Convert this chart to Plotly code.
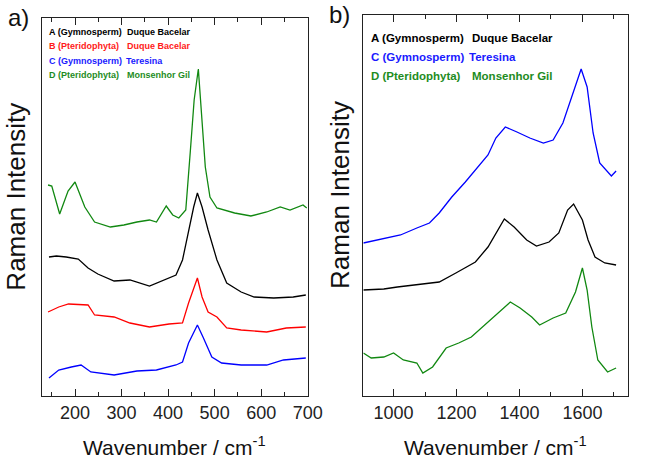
import plotly.graph_objects as go

# ---------------- Panel a data (wavenumber, intensity in arbitrary units) ----------------
a_green_x = [142, 150, 167, 185, 200, 221, 242, 276, 305, 333, 360, 375, 396, 410, 423, 438, 448, 456, 465, 473, 480, 490, 505, 543, 578, 612, 641, 662, 690, 698]
a_green_y = [211, 210, 182, 205, 214, 189, 174, 169, 171, 174, 176, 174, 190, 181, 178, 186, 246, 296, 327, 279, 229, 199, 188, 183, 180, 184, 189, 186, 191, 188]

a_black_x = [144, 160, 181, 207, 228, 249, 284, 318, 360, 389, 417, 431, 444, 455, 463, 473, 486, 505, 526, 557, 585, 627, 669, 696]
a_black_y = [139, 140, 139, 137, 128, 122, 115, 116, 110, 116, 121, 136, 166, 189, 203, 189, 166, 136, 113, 104, 99, 98, 99, 101]

a_red_x = [142, 165, 186, 228, 242, 284, 318, 360, 402, 431, 444, 463, 473, 486, 505, 526, 557, 612, 654, 696]
a_red_y = [84, 89, 92, 91, 81, 79, 73, 69, 72, 73, 93, 118, 99, 84, 79, 68, 66, 64, 68, 69]

a_blue_x = [144, 165, 192, 213, 234, 284, 333, 375, 417, 431, 444, 463, 475, 494, 515, 557, 612, 648, 696]
a_blue_y = [18, 26, 29, 31, 24, 21, 25, 26, 31, 34, 53, 71, 59, 39, 33, 31, 31, 36, 38]

# ---------------- Panel b data ----------------
b_blue_x = [904, 969, 1022, 1074, 1114, 1145, 1185, 1228, 1269, 1300, 1325, 1355, 1392, 1433, 1476, 1507, 1538, 1569, 1596, 1615, 1634, 1655, 1692, 1707]
b_blue_y = [153, 157, 161, 168, 173, 183, 199, 214, 229, 241, 258, 269, 264, 258, 253, 256, 273, 303, 327, 309, 263, 233, 220, 225]

b_black_x = [904, 969, 1012, 1074, 1145, 1198, 1260, 1300, 1331, 1352, 1383, 1423, 1454, 1494, 1525, 1553, 1572, 1600, 1618, 1640, 1671, 1707]
b_black_y = [106, 107, 109, 111, 114, 123, 134, 149, 166, 177, 169, 156, 150, 154, 163, 186, 192, 176, 156, 139, 133, 131]

b_green_x = [904, 929, 969, 1000, 1031, 1074, 1093, 1124, 1167, 1207, 1247, 1290, 1331, 1371, 1402, 1439, 1464, 1507, 1547, 1578, 1600, 1615, 1630, 1649, 1680, 1707]
b_green_y = [43, 38, 39, 43, 36, 33, 23, 29, 48, 53, 59, 71, 83, 94, 88, 79, 71, 78, 83, 104, 128, 106, 69, 36, 24, 28]

# ---------------- Axis ticks ----------------
a_ticks = [200, 300, 400, 500, 600, 700]
b_ticks = [1000, 1200, 1400, 1600]

# ---------------- Legend texts ----------------
a_labels = [("A (Gymnosperm)", "Duque Bacelar", "#000000"),
            ("B (Pteridophyta)", "Duque Bacelar", "#ff1a1a"),
            ("C (Gymnosperm)", "Teresina", "#1a1aff"),
            ("D (Pteridophyta)", "Monsenhor Gil", "#1e8c1e")]
b_labels = [("A (Gymnosperm)", "Duque Bacelar", "#000000"),
            ("C (Gymnosperm)", "Teresina", "#1a1aff"),
            ("D (Pteridophyta)", "Monsenhor Gil", "#1e8c1e")]

BLACK = "#000000"
RED = "#ff0000"
BLUE = "#0000ff"
GREEN = "#118811"

W, H = 645, 459

def px(x):
    return x / W

def py(y):
    return 1 - y / H

fig = go.Figure()
lw = 1.3
fig.add_trace(go.Scatter(x=a_green_x, y=a_green_y, mode="lines", line=dict(color=GREEN, width=lw), xaxis="x", yaxis="y"))
fig.add_trace(go.Scatter(x=a_black_x, y=a_black_y, mode="lines", line=dict(color=BLACK, width=lw), xaxis="x", yaxis="y"))
fig.add_trace(go.Scatter(x=a_red_x, y=a_red_y, mode="lines", line=dict(color=RED, width=lw), xaxis="x", yaxis="y"))
fig.add_trace(go.Scatter(x=a_blue_x, y=a_blue_y, mode="lines", line=dict(color=BLUE, width=lw), xaxis="x", yaxis="y"))
fig.add_trace(go.Scatter(x=b_blue_x, y=b_blue_y, mode="lines", line=dict(color=BLUE, width=lw), xaxis="x2", yaxis="y2"))
fig.add_trace(go.Scatter(x=b_black_x, y=b_black_y, mode="lines", line=dict(color=BLACK, width=lw), xaxis="x2", yaxis="y2"))
fig.add_trace(go.Scatter(x=b_green_x, y=b_green_y, mode="lines", line=dict(color=GREEN, width=lw), xaxis="x2", yaxis="y2"))

axis_line = dict(showline=True, linecolor="#222222", linewidth=1.3, mirror=True, showgrid=False, zeroline=False)
tickfont = dict(family="Liberation Sans, Arial", size=18, color="#222222")

fig.update_layout(
    width=W, height=H, autosize=False,
    margin=dict(l=0, r=0, t=0, b=0),
    paper_bgcolor="white", plot_bgcolor="white",
    showlegend=False,
    xaxis=dict(domain=[px(43), px(315)], range=[129, 700], anchor="y",
               tickvals=a_ticks, ticks="inside", ticklen=7, tickwidth=1.3, tickcolor="#222222",
               minor=dict(ticks="inside", ticklen=4, dtick=50, tick0=150, tickcolor="#222222", tickwidth=1.2),
               tickfont=tickfont, **{**axis_line, "mirror": "ticks"}),
    yaxis=dict(domain=[py(396), py(18)], range=[0, 378], anchor="x",
               showticklabels=False, ticks="", **axis_line),
    xaxis2=dict(domain=[px(372), px(643)], range=[904, 1745], anchor="y2",
                tickvals=b_ticks, ticks="inside", ticklen=7, tickwidth=1.3, tickcolor="#222222",
                minor=dict(ticks="inside", ticklen=4, dtick=100, tick0=900, tickcolor="#222222", tickwidth=1.2),
                tickfont=tickfont, **{**axis_line, "mirror": "ticks"}),
    yaxis2=dict(domain=[py(396), py(15)], range=[0, 381], anchor="x2",
                showticklabels=False, ticks="", **axis_line),
)

ann = []
font_big = "Liberation Sans, Arial"
# panel labels
ann.append(dict(text="a)", x=px(6), y=py(18), xref="paper", yref="paper", xanchor="left", yanchor="middle",
                showarrow=False, font=dict(family=font_big, size=24, color="#111111")))
ann.append(dict(text="b)", x=px(335), y=py(15), xref="paper", yref="paper", xanchor="left", yanchor="middle",
                showarrow=False, font=dict(family=font_big, size=24, color="#111111")))
# axis titles
for cx in [179, 507]:
    ann.append(dict(text="Wavenumber / cm<sup>-1</sup>", x=px(cx), y=py(446), xref="paper", yref="paper",
                    xanchor="center", yanchor="middle", showarrow=False,
                    font=dict(family=font_big, size=21, color="#111111")))
for cx, cy in [(16, 197), (348, 195)]:
    ann.append(dict(text="Raman Intensity", x=px(cx), y=py(cy), xref="paper", yref="paper", textangle=-90,
                    xanchor="center", yanchor="middle", showarrow=False,
                    font=dict(family=font_big, size=26, color="#111111")))
# legend text panel a
a_rows = [32, 46, 61, 75]
a_col2 = [128, 128, 127, 128]
for (l1, l2, c), yy, c2 in zip(a_labels, a_rows, a_col2):
    ann.append(dict(text="<b>%s</b>" % l1, x=px(48), y=py(yy), xref="paper", yref="paper", xanchor="left",
                    yanchor="middle", showarrow=False, font=dict(family=font_big, size=9, color=c)))
    ann.append(dict(text="<b>%s</b>" % l2, x=px(c2), y=py(yy), xref="paper", yref="paper", xanchor="left",
                    yanchor="middle", showarrow=False, font=dict(family=font_big, size=9, color=c)))
# legend text panel b
b_rows = [38, 57, 76]
b_col2 = [481, 478, 481]
for (l1, l2, c), yy, c2 in zip(b_labels, b_rows, b_col2):
    ann.append(dict(text="<b>%s</b>" % l1, x=px(378), y=py(yy), xref="paper", yref="paper", xanchor="left",
                    yanchor="middle", showarrow=False, font=dict(family=font_big, size=11.5, color=c)))
    ann.append(dict(text="<b>%s</b>" % l2, x=px(c2), y=py(yy), xref="paper", yref="paper", xanchor="left",
                    yanchor="middle", showarrow=False, font=dict(family=font_big, size=11.5, color=c)))
fig.update_layout(annotations=ann)

fig.write_html("out.html")
